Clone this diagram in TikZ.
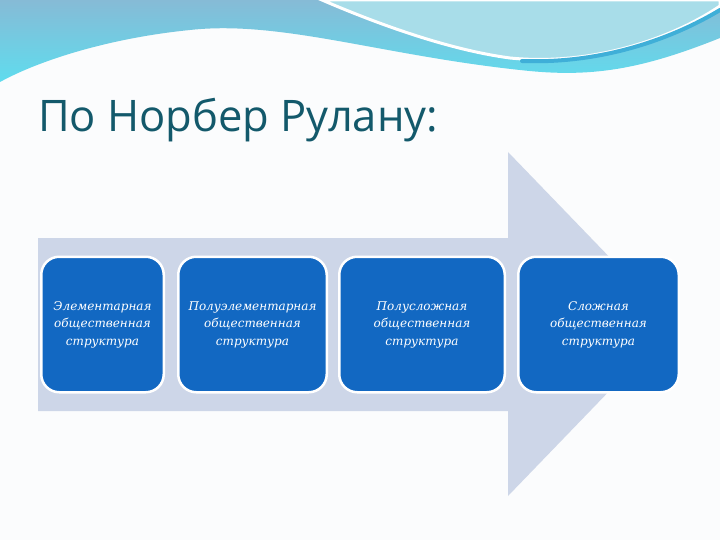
\documentclass[tikz,border=0pt]{standalone}
\usepackage{fontspec}
\setmainfont{DejaVu Serif}
\newfontfamily\titlefont{Open Sans}
\usetikzlibrary{positioning}
\definecolor{slidebg}{HTML}{FBFCFD}
\definecolor{wavetop}{HTML}{86BBD6}
\definecolor{wavelow}{HTML}{5FDCEE}
\definecolor{wavelight}{HTML}{A8DDE9}
\definecolor{wavestripe}{HTML}{3FAFD8}
\definecolor{titleteal}{HTML}{13596B}
\definecolor{arrowgray}{HTML}{CDD6E8}
\definecolor{boxblue}{HTML}{1268C2}

\begin{document}
\begin{tikzpicture}[x=1pt, y=-1pt,
      stagebox/.style={draw=white, line width=2.5pt, fill=boxblue, rounded corners=18pt,
        minimum height=135.5pt, inner sep=2pt, text=white, align=center,
        font=\fontsize{12}{17.5}\selectfont\itshape},
      titlelabel/.style={font=\titlefont\fontsize{43.5}{48}\selectfont, text=titleteal, inner sep=0pt}
    ]
    \useasboundingbox (0,0) rectangle (720,540);
    \fill[slidebg] (0,0) rectangle (720,540);
    % wave at the top
    \shade[top color=wavetop, bottom color=wavelow]
      (0,0) -- (720,0) -- (720,38) .. controls (640,70) and (590,78) .. (520,70)
      .. controls (380,55) and (280,20) .. (190,30) .. controls (110,38) and (40,60) .. (0,82) -- cycle;
    \fill[wavelight, draw=white, line width=3pt]
      (322,0) .. controls (380,25) and (450,50) .. (510,58)
      .. controls (590,66) and (670,40) .. (720,6) -- (720,0) -- cycle;
    \draw[wavestripe, line width=4pt, line cap=round]
      (522,61) .. controls (600,64) and (670,40) .. (720,10);
    \node[titlelabel, anchor=base west] (title) at (38,132) {По Норбер Рулану:};
    % big arrow behind the stages
    \fill[arrowgray] (38,238) -- (508,238) -- (508,152) -- (674,324)
      -- (508,496) -- (508,411) -- (38,411) -- cycle;
    \node[stagebox, minimum width=122.5pt] (elem) at (102.5,324.5)
      {Элементарная\\общественная\\структура};
    \node[stagebox, minimum width=148.5pt, right=12pt of elem] (halfelem)
      {Полуэлементарная\\общественная\\структура};
    \node[stagebox, minimum width=165.5pt, right=10pt of halfelem] (halfcomplex)
      {Полусложная\\общественная\\структура};
    \node[stagebox, minimum width=160.5pt, right=11pt of halfcomplex] (complex)
      {Сложная\\общественная\\структура};
  \end{tikzpicture}
\end{document}
